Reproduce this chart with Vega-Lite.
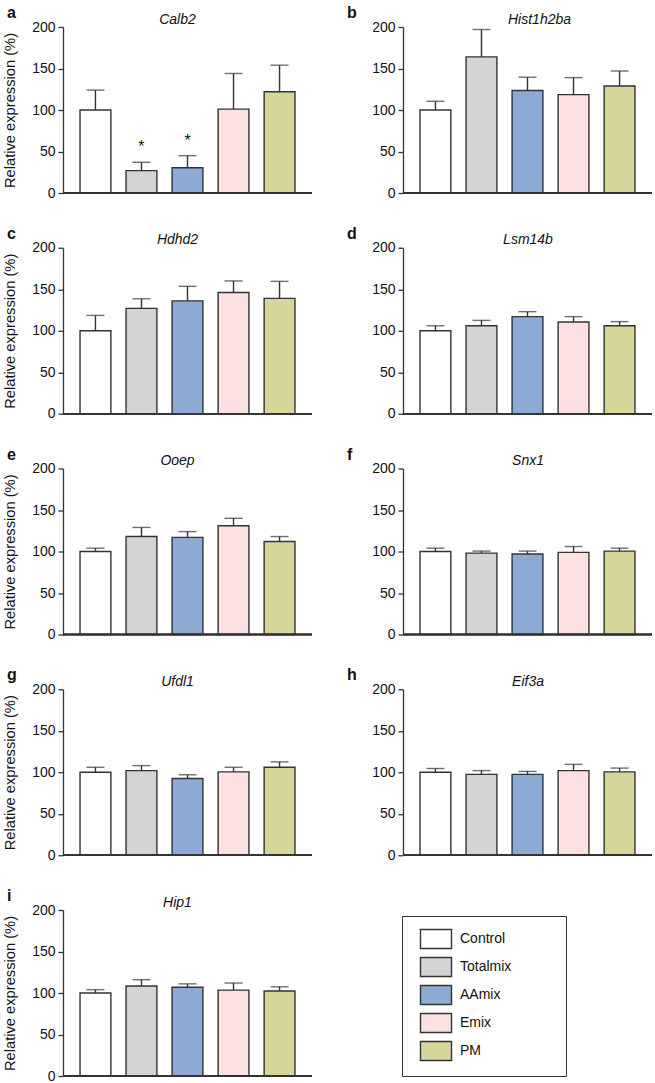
{
  "$schema": "https://vega.github.io/schema/vega-lite/v6.json",
  "padding": {"left": 2, "top": 5, "right": 0, "bottom": 0},
  "background": "white",
  "data": {"values": [
    {"gene": "Calb2", "group": "Control", "value": 100, "upper": 124, "sig": ""},
    {"gene": "Calb2", "group": "Totalmix", "value": 27, "upper": 37, "sig": "*"},
    {"gene": "Calb2", "group": "AAmix", "value": 30.5, "upper": 45, "sig": "*"},
    {"gene": "Calb2", "group": "Emix", "value": 101, "upper": 144, "sig": ""},
    {"gene": "Calb2", "group": "PM", "value": 122, "upper": 154, "sig": ""},
    {"gene": "Hist1h2ba", "group": "Control", "value": 100, "upper": 110.5, "sig": ""},
    {"gene": "Hist1h2ba", "group": "Totalmix", "value": 164, "upper": 197, "sig": ""},
    {"gene": "Hist1h2ba", "group": "AAmix", "value": 123.5, "upper": 139.5, "sig": ""},
    {"gene": "Hist1h2ba", "group": "Emix", "value": 118.5, "upper": 139, "sig": ""},
    {"gene": "Hist1h2ba", "group": "PM", "value": 129, "upper": 147, "sig": ""},
    {"gene": "Hdhd2", "group": "Control", "value": 100, "upper": 118.5, "sig": ""},
    {"gene": "Hdhd2", "group": "Totalmix", "value": 127, "upper": 138.5, "sig": ""},
    {"gene": "Hdhd2", "group": "AAmix", "value": 136, "upper": 153.5, "sig": ""},
    {"gene": "Hdhd2", "group": "Emix", "value": 146, "upper": 160, "sig": ""},
    {"gene": "Hdhd2", "group": "PM", "value": 139, "upper": 159.5, "sig": ""},
    {"gene": "Lsm14b", "group": "Control", "value": 100, "upper": 106, "sig": ""},
    {"gene": "Lsm14b", "group": "Totalmix", "value": 106, "upper": 112.5, "sig": ""},
    {"gene": "Lsm14b", "group": "AAmix", "value": 117, "upper": 123, "sig": ""},
    {"gene": "Lsm14b", "group": "Emix", "value": 110.5, "upper": 117, "sig": ""},
    {"gene": "Lsm14b", "group": "PM", "value": 106, "upper": 111, "sig": ""},
    {"gene": "Ooep", "group": "Control", "value": 100, "upper": 104, "sig": ""},
    {"gene": "Ooep", "group": "Totalmix", "value": 118, "upper": 129, "sig": ""},
    {"gene": "Ooep", "group": "AAmix", "value": 117, "upper": 124, "sig": ""},
    {"gene": "Ooep", "group": "Emix", "value": 131, "upper": 140, "sig": ""},
    {"gene": "Ooep", "group": "PM", "value": 112, "upper": 118, "sig": ""},
    {"gene": "Snx1", "group": "Control", "value": 100, "upper": 104, "sig": ""},
    {"gene": "Snx1", "group": "Totalmix", "value": 98, "upper": 100.5, "sig": ""},
    {"gene": "Snx1", "group": "AAmix", "value": 97, "upper": 100.5, "sig": ""},
    {"gene": "Snx1", "group": "Emix", "value": 99, "upper": 106, "sig": ""},
    {"gene": "Snx1", "group": "PM", "value": 100.5, "upper": 104, "sig": ""},
    {"gene": "Ufdl1", "group": "Control", "value": 100, "upper": 106, "sig": ""},
    {"gene": "Ufdl1", "group": "Totalmix", "value": 102, "upper": 108, "sig": ""},
    {"gene": "Ufdl1", "group": "AAmix", "value": 92.5, "upper": 97, "sig": ""},
    {"gene": "Ufdl1", "group": "Emix", "value": 100.5, "upper": 106, "sig": ""},
    {"gene": "Ufdl1", "group": "PM", "value": 106, "upper": 112.5, "sig": ""},
    {"gene": "Eif3a", "group": "Control", "value": 100, "upper": 104.5, "sig": ""},
    {"gene": "Eif3a", "group": "Totalmix", "value": 97.5, "upper": 102, "sig": ""},
    {"gene": "Eif3a", "group": "AAmix", "value": 97.5, "upper": 101, "sig": ""},
    {"gene": "Eif3a", "group": "Emix", "value": 102, "upper": 109.5, "sig": ""},
    {"gene": "Eif3a", "group": "PM", "value": 100.5, "upper": 105, "sig": ""},
    {"gene": "Hip1", "group": "Control", "value": 100, "upper": 104, "sig": ""},
    {"gene": "Hip1", "group": "Totalmix", "value": 108.5, "upper": 116, "sig": ""},
    {"gene": "Hip1", "group": "AAmix", "value": 107, "upper": 111, "sig": ""},
    {"gene": "Hip1", "group": "Emix", "value": 103.5, "upper": 112, "sig": ""},
    {"gene": "Hip1", "group": "PM", "value": 102.5, "upper": 107.5, "sig": ""}
  ]},
  "columns": 2,
  "spacing": {"row": 25.75, "column": 34},
  "concat": [
    {
      "title": {"text": "a"},
      "transform": [{"filter": "datum.gene == 'Calb2'"}],
      "width": 249, "height": 166,
      "layer": [
        {"mark": {"type": "bar", "stroke": "#333333", "strokeWidth": 1.4},
         "encoding": {
           "x": {"field": "group", "type": "nominal", "sort": ["Control", "Totalmix", "AAmix", "Emix", "PM"], "scale": {"paddingInner": 0.33, "paddingOuter": 0.37}, "axis": {"orient": "top", "title": "Calb2", "titleX": 114}},
           "y": {"field": "value", "type": "quantitative", "scale": {"domain": [0, 200]}, "axis": {"title": "Relative expression (%)"}},
           "color": {"field": "group", "type": "nominal", "scale": {"domain": ["Control", "Totalmix", "AAmix", "Emix", "PM"], "range": ["#ffffff", "#d4d4d4", "#8caad4", "#fde0e1", "#d6d59c"]},
             "legend": {"title": "\u00a0", "titleOrient": "right", "titlePadding": 42, "orient": "none", "legendX": 339, "legendY": 889, "direction": "vertical", "strokeColor": "#333333", "padding": 12.5, "symbolType": "M-1.632,-1H1.632V1H-1.632Z", "symbolSize": 361, "symbolStrokeColor": "#333333", "symbolStrokeWidth": 1.4, "symbolOpacity": 1, "symbolOffset": 11, "labelOffset": 13.5, "labelFontSize": 14, "labelColor": "#111111", "rowPadding": 3.0}}
         }},
        {"mark": {"type": "rule", "color": "#333333", "strokeWidth": 1.4},
         "encoding": {"x": {"field": "group", "type": "nominal", "sort": ["Control", "Totalmix", "AAmix", "Emix", "PM"], "axis": {"orient": "top", "title": "Calb2"}}, "y": {"field": "value", "type": "quantitative", "axis": {"title": "Relative expression (%)"}}, "y2": {"field": "upper"}}},
        {"mark": {"type": "tick", "color": "#333333", "thickness": 1.4, "size": 18},
         "encoding": {"x": {"field": "group", "type": "nominal", "sort": ["Control", "Totalmix", "AAmix", "Emix", "PM"], "axis": {"orient": "top", "title": "Calb2"}}, "y": {"field": "upper", "type": "quantitative", "axis": {"title": "Relative expression (%)"}}}},
        {"transform": [{"filter": "datum.sig != ''"}],
         "mark": {"type": "text", "baseline": "bottom", "dy": -7, "fontSize": 16, "color": "#111111"},
         "encoding": {"x": {"field": "group", "type": "nominal", "sort": ["Control", "Totalmix", "AAmix", "Emix", "PM"], "axis": {"orient": "top", "title": "Calb2"}}, "y": {"field": "upper", "type": "quantitative", "axis": {"title": "Relative expression (%)"}}, "text": {"field": "sig"}}},
        {"mark": {"type": "rule", "color": "#333333", "strokeWidth": 1.4}, "encoding": {"y": {"datum": 0, "axis": {"title": "Relative expression (%)"}}}}
      ]
    },
    {
      "title": {"text": "b"},
      "transform": [{"filter": "datum.gene == 'Hist1h2ba'"}],
      "width": 249, "height": 166,
      "layer": [
        {"mark": {"type": "bar", "stroke": "#333333", "strokeWidth": 1.4},
         "encoding": {
           "x": {"field": "group", "type": "nominal", "sort": ["Control", "Totalmix", "AAmix", "Emix", "PM"], "scale": {"paddingInner": 0.33, "paddingOuter": 0.37}, "axis": {"orient": "top", "title": "Hist1h2ba", "titleX": 136}},
           "y": {"field": "value", "type": "quantitative", "scale": {"domain": [0, 200]}, "axis": {"title": null}},
           "color": {"field": "group", "type": "nominal", "scale": {"domain": ["Control", "Totalmix", "AAmix", "Emix", "PM"], "range": ["#ffffff", "#d4d4d4", "#8caad4", "#fde0e1", "#d6d59c"]}, "legend": null}
         }},
        {"mark": {"type": "rule", "color": "#333333", "strokeWidth": 1.4},
         "encoding": {"x": {"field": "group", "type": "nominal", "sort": ["Control", "Totalmix", "AAmix", "Emix", "PM"], "axis": {"orient": "top", "title": "Hist1h2ba"}}, "y": {"field": "value", "type": "quantitative", "axis": {"title": null}}, "y2": {"field": "upper"}}},
        {"mark": {"type": "tick", "color": "#333333", "thickness": 1.4, "size": 18},
         "encoding": {"x": {"field": "group", "type": "nominal", "sort": ["Control", "Totalmix", "AAmix", "Emix", "PM"], "axis": {"orient": "top", "title": "Hist1h2ba"}}, "y": {"field": "upper", "type": "quantitative", "axis": {"title": null}}}},
        {"mark": {"type": "rule", "color": "#333333", "strokeWidth": 1.4}, "encoding": {"y": {"datum": 0, "axis": {"title": null}}}}
      ]
    },
    {
      "title": {"text": "c"},
      "transform": [{"filter": "datum.gene == 'Hdhd2'"}],
      "width": 249, "height": 166,
      "layer": [
        {"mark": {"type": "bar", "stroke": "#333333", "strokeWidth": 1.4},
         "encoding": {
           "x": {"field": "group", "type": "nominal", "sort": ["Control", "Totalmix", "AAmix", "Emix", "PM"], "scale": {"paddingInner": 0.33, "paddingOuter": 0.37}, "axis": {"orient": "top", "title": "Hdhd2", "titleX": 114}},
           "y": {"field": "value", "type": "quantitative", "scale": {"domain": [0, 200]}, "axis": {"title": "Relative expression (%)"}},
           "color": {"field": "group", "type": "nominal", "scale": {"domain": ["Control", "Totalmix", "AAmix", "Emix", "PM"], "range": ["#ffffff", "#d4d4d4", "#8caad4", "#fde0e1", "#d6d59c"]}, "legend": null}
         }},
        {"mark": {"type": "rule", "color": "#333333", "strokeWidth": 1.4},
         "encoding": {"x": {"field": "group", "type": "nominal", "sort": ["Control", "Totalmix", "AAmix", "Emix", "PM"], "axis": {"orient": "top", "title": "Hdhd2"}}, "y": {"field": "value", "type": "quantitative", "axis": {"title": "Relative expression (%)"}}, "y2": {"field": "upper"}}},
        {"mark": {"type": "tick", "color": "#333333", "thickness": 1.4, "size": 18},
         "encoding": {"x": {"field": "group", "type": "nominal", "sort": ["Control", "Totalmix", "AAmix", "Emix", "PM"], "axis": {"orient": "top", "title": "Hdhd2"}}, "y": {"field": "upper", "type": "quantitative", "axis": {"title": "Relative expression (%)"}}}},
        {"mark": {"type": "rule", "color": "#333333", "strokeWidth": 1.4}, "encoding": {"y": {"datum": 0, "axis": {"title": "Relative expression (%)"}}}}
      ]
    },
    {
      "title": {"text": "d"},
      "transform": [{"filter": "datum.gene == 'Lsm14b'"}],
      "width": 249, "height": 166,
      "layer": [
        {"mark": {"type": "bar", "stroke": "#333333", "strokeWidth": 1.4},
         "encoding": {
           "x": {"field": "group", "type": "nominal", "sort": ["Control", "Totalmix", "AAmix", "Emix", "PM"], "scale": {"paddingInner": 0.33, "paddingOuter": 0.37}, "axis": {"orient": "top", "title": "Lsm14b"}},
           "y": {"field": "value", "type": "quantitative", "scale": {"domain": [0, 200]}, "axis": {"title": null}},
           "color": {"field": "group", "type": "nominal", "scale": {"domain": ["Control", "Totalmix", "AAmix", "Emix", "PM"], "range": ["#ffffff", "#d4d4d4", "#8caad4", "#fde0e1", "#d6d59c"]}, "legend": null}
         }},
        {"mark": {"type": "rule", "color": "#333333", "strokeWidth": 1.4},
         "encoding": {"x": {"field": "group", "type": "nominal", "sort": ["Control", "Totalmix", "AAmix", "Emix", "PM"], "axis": {"orient": "top", "title": "Lsm14b"}}, "y": {"field": "value", "type": "quantitative", "axis": {"title": null}}, "y2": {"field": "upper"}}},
        {"mark": {"type": "tick", "color": "#333333", "thickness": 1.4, "size": 18},
         "encoding": {"x": {"field": "group", "type": "nominal", "sort": ["Control", "Totalmix", "AAmix", "Emix", "PM"], "axis": {"orient": "top", "title": "Lsm14b"}}, "y": {"field": "upper", "type": "quantitative", "axis": {"title": null}}}},
        {"mark": {"type": "rule", "color": "#333333", "strokeWidth": 1.4}, "encoding": {"y": {"datum": 0, "axis": {"title": null}}}}
      ]
    },
    {
      "title": {"text": "e"},
      "transform": [{"filter": "datum.gene == 'Ooep'"}],
      "width": 249, "height": 166,
      "layer": [
        {"mark": {"type": "bar", "stroke": "#333333", "strokeWidth": 1.4},
         "encoding": {
           "x": {"field": "group", "type": "nominal", "sort": ["Control", "Totalmix", "AAmix", "Emix", "PM"], "scale": {"paddingInner": 0.33, "paddingOuter": 0.37}, "axis": {"orient": "top", "title": "Ooep", "titleX": 114}},
           "y": {"field": "value", "type": "quantitative", "scale": {"domain": [0, 200]}, "axis": {"title": "Relative expression (%)"}},
           "color": {"field": "group", "type": "nominal", "scale": {"domain": ["Control", "Totalmix", "AAmix", "Emix", "PM"], "range": ["#ffffff", "#d4d4d4", "#8caad4", "#fde0e1", "#d6d59c"]}, "legend": null}
         }},
        {"mark": {"type": "rule", "color": "#333333", "strokeWidth": 1.4},
         "encoding": {"x": {"field": "group", "type": "nominal", "sort": ["Control", "Totalmix", "AAmix", "Emix", "PM"], "axis": {"orient": "top", "title": "Ooep"}}, "y": {"field": "value", "type": "quantitative", "axis": {"title": "Relative expression (%)"}}, "y2": {"field": "upper"}}},
        {"mark": {"type": "tick", "color": "#333333", "thickness": 1.4, "size": 18},
         "encoding": {"x": {"field": "group", "type": "nominal", "sort": ["Control", "Totalmix", "AAmix", "Emix", "PM"], "axis": {"orient": "top", "title": "Ooep"}}, "y": {"field": "upper", "type": "quantitative", "axis": {"title": "Relative expression (%)"}}}},
        {"mark": {"type": "rule", "color": "#333333", "strokeWidth": 1.4}, "encoding": {"y": {"datum": 0, "axis": {"title": "Relative expression (%)"}}}}
      ]
    },
    {
      "title": {"text": "f"},
      "transform": [{"filter": "datum.gene == 'Snx1'"}],
      "width": 249, "height": 166,
      "layer": [
        {"mark": {"type": "bar", "stroke": "#333333", "strokeWidth": 1.4},
         "encoding": {
           "x": {"field": "group", "type": "nominal", "sort": ["Control", "Totalmix", "AAmix", "Emix", "PM"], "scale": {"paddingInner": 0.33, "paddingOuter": 0.37}, "axis": {"orient": "top", "title": "Snx1"}},
           "y": {"field": "value", "type": "quantitative", "scale": {"domain": [0, 200]}, "axis": {"title": null}},
           "color": {"field": "group", "type": "nominal", "scale": {"domain": ["Control", "Totalmix", "AAmix", "Emix", "PM"], "range": ["#ffffff", "#d4d4d4", "#8caad4", "#fde0e1", "#d6d59c"]}, "legend": null}
         }},
        {"mark": {"type": "rule", "color": "#333333", "strokeWidth": 1.4},
         "encoding": {"x": {"field": "group", "type": "nominal", "sort": ["Control", "Totalmix", "AAmix", "Emix", "PM"], "axis": {"orient": "top", "title": "Snx1"}}, "y": {"field": "value", "type": "quantitative", "axis": {"title": null}}, "y2": {"field": "upper"}}},
        {"mark": {"type": "tick", "color": "#333333", "thickness": 1.4, "size": 18},
         "encoding": {"x": {"field": "group", "type": "nominal", "sort": ["Control", "Totalmix", "AAmix", "Emix", "PM"], "axis": {"orient": "top", "title": "Snx1"}}, "y": {"field": "upper", "type": "quantitative", "axis": {"title": null}}}},
        {"mark": {"type": "rule", "color": "#333333", "strokeWidth": 1.4}, "encoding": {"y": {"datum": 0, "axis": {"title": null}}}}
      ]
    },
    {
      "title": {"text": "g"},
      "transform": [{"filter": "datum.gene == 'Ufdl1'"}],
      "width": 249, "height": 166,
      "layer": [
        {"mark": {"type": "bar", "stroke": "#333333", "strokeWidth": 1.4},
         "encoding": {
           "x": {"field": "group", "type": "nominal", "sort": ["Control", "Totalmix", "AAmix", "Emix", "PM"], "scale": {"paddingInner": 0.33, "paddingOuter": 0.37}, "axis": {"orient": "top", "title": "Ufdl1", "titleX": 114}},
           "y": {"field": "value", "type": "quantitative", "scale": {"domain": [0, 200]}, "axis": {"title": "Relative expression (%)"}},
           "color": {"field": "group", "type": "nominal", "scale": {"domain": ["Control", "Totalmix", "AAmix", "Emix", "PM"], "range": ["#ffffff", "#d4d4d4", "#8caad4", "#fde0e1", "#d6d59c"]}, "legend": null}
         }},
        {"mark": {"type": "rule", "color": "#333333", "strokeWidth": 1.4},
         "encoding": {"x": {"field": "group", "type": "nominal", "sort": ["Control", "Totalmix", "AAmix", "Emix", "PM"], "axis": {"orient": "top", "title": "Ufdl1"}}, "y": {"field": "value", "type": "quantitative", "axis": {"title": "Relative expression (%)"}}, "y2": {"field": "upper"}}},
        {"mark": {"type": "tick", "color": "#333333", "thickness": 1.4, "size": 18},
         "encoding": {"x": {"field": "group", "type": "nominal", "sort": ["Control", "Totalmix", "AAmix", "Emix", "PM"], "axis": {"orient": "top", "title": "Ufdl1"}}, "y": {"field": "upper", "type": "quantitative", "axis": {"title": "Relative expression (%)"}}}},
        {"mark": {"type": "rule", "color": "#333333", "strokeWidth": 1.4}, "encoding": {"y": {"datum": 0, "axis": {"title": "Relative expression (%)"}}}}
      ]
    },
    {
      "title": {"text": "h"},
      "transform": [{"filter": "datum.gene == 'Eif3a'"}],
      "width": 249, "height": 166,
      "layer": [
        {"mark": {"type": "bar", "stroke": "#333333", "strokeWidth": 1.4},
         "encoding": {
           "x": {"field": "group", "type": "nominal", "sort": ["Control", "Totalmix", "AAmix", "Emix", "PM"], "scale": {"paddingInner": 0.33, "paddingOuter": 0.37}, "axis": {"orient": "top", "title": "Eif3a"}},
           "y": {"field": "value", "type": "quantitative", "scale": {"domain": [0, 200]}, "axis": {"title": null}},
           "color": {"field": "group", "type": "nominal", "scale": {"domain": ["Control", "Totalmix", "AAmix", "Emix", "PM"], "range": ["#ffffff", "#d4d4d4", "#8caad4", "#fde0e1", "#d6d59c"]}, "legend": null}
         }},
        {"mark": {"type": "rule", "color": "#333333", "strokeWidth": 1.4},
         "encoding": {"x": {"field": "group", "type": "nominal", "sort": ["Control", "Totalmix", "AAmix", "Emix", "PM"], "axis": {"orient": "top", "title": "Eif3a"}}, "y": {"field": "value", "type": "quantitative", "axis": {"title": null}}, "y2": {"field": "upper"}}},
        {"mark": {"type": "tick", "color": "#333333", "thickness": 1.4, "size": 18},
         "encoding": {"x": {"field": "group", "type": "nominal", "sort": ["Control", "Totalmix", "AAmix", "Emix", "PM"], "axis": {"orient": "top", "title": "Eif3a"}}, "y": {"field": "upper", "type": "quantitative", "axis": {"title": null}}}},
        {"mark": {"type": "rule", "color": "#333333", "strokeWidth": 1.4}, "encoding": {"y": {"datum": 0, "axis": {"title": null}}}}
      ]
    },
    {
      "title": {"text": "i"},
      "transform": [{"filter": "datum.gene == 'Hip1'"}],
      "width": 249, "height": 166,
      "layer": [
        {"mark": {"type": "bar", "stroke": "#333333", "strokeWidth": 1.4},
         "encoding": {
           "x": {"field": "group", "type": "nominal", "sort": ["Control", "Totalmix", "AAmix", "Emix", "PM"], "scale": {"paddingInner": 0.33, "paddingOuter": 0.37}, "axis": {"orient": "top", "title": "Hip1", "titleX": 114}},
           "y": {"field": "value", "type": "quantitative", "scale": {"domain": [0, 200]}, "axis": {"title": "Relative expression (%)"}},
           "color": {"field": "group", "type": "nominal", "scale": {"domain": ["Control", "Totalmix", "AAmix", "Emix", "PM"], "range": ["#ffffff", "#d4d4d4", "#8caad4", "#fde0e1", "#d6d59c"]}, "legend": null}
         }},
        {"mark": {"type": "rule", "color": "#333333", "strokeWidth": 1.4},
         "encoding": {"x": {"field": "group", "type": "nominal", "sort": ["Control", "Totalmix", "AAmix", "Emix", "PM"], "axis": {"orient": "top", "title": "Hip1"}}, "y": {"field": "value", "type": "quantitative", "axis": {"title": "Relative expression (%)"}}, "y2": {"field": "upper"}}},
        {"mark": {"type": "tick", "color": "#333333", "thickness": 1.4, "size": 18},
         "encoding": {"x": {"field": "group", "type": "nominal", "sort": ["Control", "Totalmix", "AAmix", "Emix", "PM"], "axis": {"orient": "top", "title": "Hip1"}}, "y": {"field": "upper", "type": "quantitative", "axis": {"title": "Relative expression (%)"}}}},
        {"mark": {"type": "rule", "color": "#333333", "strokeWidth": 1.4}, "encoding": {"y": {"datum": 0, "axis": {"title": "Relative expression (%)"}}}}
      ]
    }
  ],
  "config": {
    "font": "Liberation Sans",
    "view": {"stroke": null},
    "title": {"anchor": "start", "frame": "group", "fontSize": 16, "fontWeight": "bold", "color": "#111111", "dx": -56, "offset": -9},
    "axisX": {"labels": false, "ticks": false, "domain": false, "titleFontSize": 14, "titleFontStyle": "italic", "titleFontWeight": "normal", "titleColor": "#111111", "titlePadding": 1},
    "axisY": {"grid": false, "tickCount": 5, "labelFontSize": 14, "labelColor": "#111111", "titleFontSize": 14.7, "titleFontWeight": "normal", "titleColor": "#111111", "domainColor": "#333333", "tickColor": "#333333", "domainWidth": 1.3, "tickWidth": 1.3, "tickSize": 5, "labelPadding": 3, "titlePadding": 14}
  }
}
